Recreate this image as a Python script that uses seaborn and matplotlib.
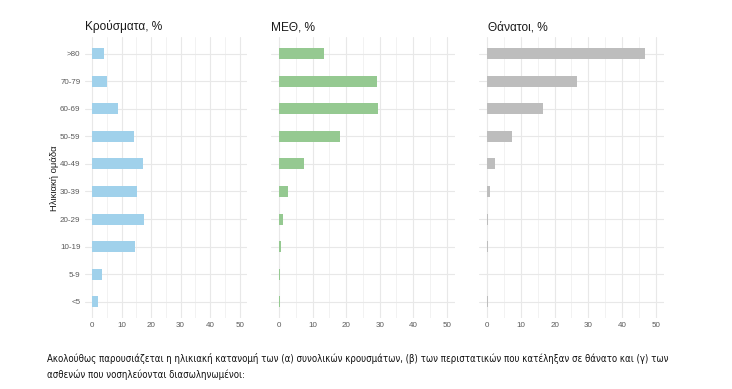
import matplotlib
matplotlib.use("Agg")
import matplotlib.pyplot as plt
import seaborn as sns
import pandas as pd

# age groups, top to bottom
age_groups = [">80", "70-79", "60-69", "50-59", "40-49", "30-39", "20-29", "10-19", "5-9", "<5"]

cases_pct = [4.0, 5.1, 8.8, 14.1, 17.2, 15.1, 17.6, 14.6, 3.4, 2.0]
icu_pct = [13.3, 29.2, 29.5, 18.1, 7.4, 2.6, 1.1, 0.4, 0.2, 0.2]
deaths_pct = [46.8, 26.6, 16.5, 7.3, 2.3, 0.8, 0.1, 0.1, 0.0, 0.1]

panel_titles = ["Κρούσματα, %", "ΜΕΘ, %", "Θάνατοι, %"]
panel_colors = ["#a0d1eb", "#95c991", "#bdbdbd"]
title_x = [0.0, 0.0, 0.05]
x_ticks = [0, 10, 20, 30, 40, 50]

caption_lines = [
    "Ακολούθως παρουσιάζεται η ηλικιακή κατανομή των (α) συνολικών κρουσμάτων, "
    "(β) των περιστατικών που κατέληξαν σε θάνατο και (γ) των",
    "ασθενών που νοσηλεύονται διασωληνωμένοι:",
]

sns.set_theme(style="white")
plt.rcParams['font.family'] = ['Liberation Sans', 'DejaVu Sans']

fig = plt.figure(figsize=(7.32, 3.89), dpi=100)

# axes boxes in figure fractions
boxes = [
    (0.1156, 0.182, 0.2219, 0.7224),
    (0.3701, 0.182, 0.2515, 0.7224),
    (0.6542, 0.182, 0.2529, 0.7224),
]

for i, (vals, title, color, box) in enumerate(zip([cases_pct, icu_pct, deaths_pct],
                                                   panel_titles, panel_colors, boxes)):
    ax = fig.add_axes(box)
    df = pd.DataFrame({"age": age_groups, "pct": vals})
    sns.barplot(data=df, x="pct", y="age", order=age_groups, color=color,
                width=0.4, saturation=1, ax=ax, edgecolor="none")
    ax.set_xlim(-2.5, 52.5)
    ax.set_ylim(len(age_groups) - 0.4, -0.6)
    ax.set_xticks(x_ticks)
    ax.set_xticks(range(5, 50, 10), minor=True)
    ax.grid(True, which="major", color="#e8e8e8", linewidth=0.8)
    ax.grid(True, which="minor", axis="x", color="#f0f0f0", linewidth=0.6)
    ax.set_axisbelow(True)
    for s in ax.spines.values():
        s.set_visible(False)
    ax.tick_params(axis="both", which="both", length=0, labelsize=5.8,
                   labelcolor="#5a5a5a", pad=3)
    ax.set_xlabel("")
    ax.set_title(title, loc="left", fontsize=8.6, color="#1a1a1a", pad=5, x=title_x[i])
    if i == 0:
        ax.set_ylabel("Ηλικιακή ομάδα", fontsize=6.8, color="#1a1a1a", labelpad=1)
    else:
        ax.set_ylabel("")
        ax.set_yticklabels([])

for k, ypix in enumerate([359, 375]):
    fig.text(0.064, 1 - ypix / 389, caption_lines[k], fontsize=6.9, color="#111111",
             va="center", family=["DejaVu Sans"], fontstretch="condensed")

fig.savefig("out.png", dpi=100)
